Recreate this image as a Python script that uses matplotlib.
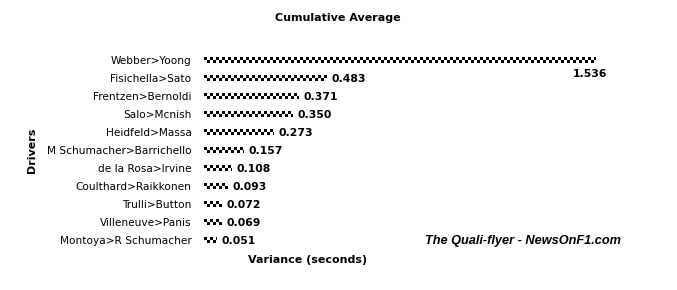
import numpy as np
import matplotlib.pyplot as plt

drivers = ['Webber>Yoong', 'Fisichella>Sato', 'Frentzen>Bernoldi', 'Salo>Mcnish',
           'Heidfeld>Massa', 'M Schumacher>Barrichello', 'de la Rosa>Irvine',
           'Coulthard>Raikkonen', 'Trulli>Button', 'Villeneuve>Panis',
           'Montoya>R Schumacher']
variance = [1.536, 0.483, 0.371, 0.350, 0.273, 0.157, 0.108, 0.093, 0.072, 0.069, 0.051]
labels = ['1.536', '0.483', '0.371', '0.350', '0.273', '0.157', '0.108', '0.093',
          '0.072', '0.069', '0.051']

W, H = 677, 290
fig = plt.figure(figsize=(W / 100, H / 100), dpi=100)
ax = fig.add_axes([204 / W, 1 - 250 / H, 460 / W, 200 / H])
ax.set_xlim(0, 460 / 255)
ax.set_ylim(10.55, -0.55)

# checkered bars: two rows of alternating squares
sq = 3.0 / 255
bh = 0.16
for i, v in enumerate(variance):
    n = int(np.ceil(v / sq))
    starts = np.arange(n) * sq
    widths = np.minimum(sq, v - starts)
    top = [(s, w) for k, (s, w) in enumerate(zip(starts, widths)) if k % 2 == 0]
    bot = [(s, w) for k, (s, w) in enumerate(zip(starts, widths)) if k % 2 == 1]
    ax.broken_barh(top, (i - bh, bh), facecolors='black', linewidth=0)
    ax.broken_barh(bot, (i, bh), facecolors='black', linewidth=0)
    if i == 0:
        ax.text(v - 0.09, i + 0.8, labels[i], fontsize=7.8, fontweight='bold',
                va='center', ha='left')
    else:
        ax.text(v + 0.018, i + 0.05, labels[i], fontsize=7.8, fontweight='bold',
                va='center', ha='left')

ax.set_yticks(range(len(drivers)))
ax.set_yticklabels(drivers, fontsize=7.6)
ax.tick_params(axis='y', length=0, pad=9)
ax.set_xticks([])
for s in ax.spines.values():
    s.set_visible(False)

fig.text(338 / W, 1 - 18 / H, 'Cumulative Average', fontsize=8, fontweight='bold',
         ha='center', va='center')
fig.text(32 / W, 1 - 150 / H, 'Drivers', fontsize=8, fontweight='bold',
         rotation=90, ha='center', va='center')
fig.text(308 / W, 1 - 260 / H, 'Variance (seconds)', fontsize=8, fontweight='bold',
         ha='center', va='center')
fig.text(523 / W, 1 - 241 / H, 'The Quali-flyer - NewsOnF1.com', fontsize=9.2,
         fontweight='bold', fontstyle='italic', family='Liberation Sans',
         ha='center', va='center')

fig.savefig('out.png', dpi=100)
